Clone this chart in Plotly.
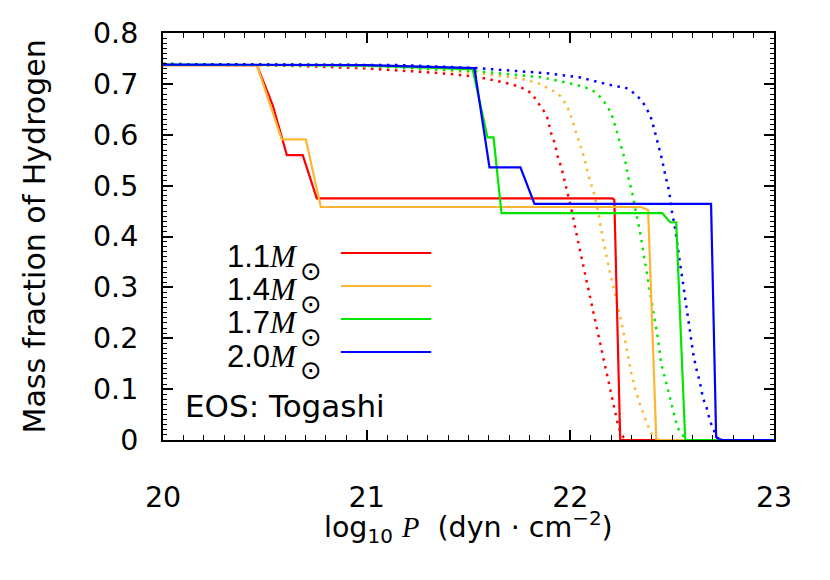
import plotly.graph_objects as go

# ---------------- data ----------------
masses = ["1.1", "1.4", "1.7", "2.0"]
colors = ["#ff0000", "#ffb533", "#00e600", "#0000ff"]

# solid curves
red_x = [20.0, 20.461, 20.539, 20.608, 20.686, 20.755, 22.206, 22.216, 22.245, 23.0]
red_y = [0.737, 0.737, 0.658, 0.560, 0.560, 0.475, 0.475, 0.472, 0.0, 0.0]

orange_x = [20.0, 20.461, 20.583, 20.701, 20.775, 22.348, 22.382, 22.422, 23.0]
orange_y = [0.737, 0.737, 0.591, 0.591, 0.458, 0.458, 0.452, 0.0, 0.0]

green_x = [20.0, 21.0, 21.520, 21.593, 21.623, 21.662, 22.451, 22.490, 22.520, 22.564, 23.0]
green_y = [0.738, 0.736, 0.729, 0.595, 0.595, 0.446, 0.446, 0.428, 0.428, 0.0, 0.0]

blue_x = [20.0, 21.0, 21.529, 21.603, 21.755, 21.824, 22.691, 22.716, 22.730, 22.750, 23.0]
blue_y = [0.738, 0.737, 0.731, 0.536, 0.536, 0.464, 0.464, 0.006, 0.002, 0.0, 0.0]

# dotted curves
red_dot_x = [20.0, 20.461, 20.672, 20.966, 21.294, 21.422, 21.554, 21.716, 21.789, 21.819,
             21.843, 21.868, 21.887, 21.907, 21.922, 21.941, 21.956, 21.975, 21.985, 22.005,
             22.049, 22.093, 22.132, 22.157, 22.176, 22.191, 22.211, 22.230, 22.240, 22.260,
             22.289]
red_dot_y = [0.738, 0.737, 0.735, 0.731, 0.723, 0.719, 0.713, 0.699, 0.688, 0.676,
             0.662, 0.648, 0.633, 0.601, 0.585, 0.552, 0.536, 0.503, 0.485, 0.454,
             0.369, 0.287, 0.220, 0.171, 0.138, 0.104, 0.071, 0.037, 0.022, 0.006,
             0.0]

orange_dot_x = [20.0, 20.672, 21.162, 21.554, 21.750, 21.843, 21.917, 21.951, 21.975, 21.995,
                22.020, 22.044, 22.069, 22.088, 22.113, 22.132, 22.162, 22.196, 22.225, 22.260,
                22.284, 22.299, 22.319, 22.343, 22.373, 22.387, 22.407, 22.436]
orange_dot_y = [0.739, 0.737, 0.733, 0.721, 0.711, 0.701, 0.686, 0.676, 0.662, 0.646,
                0.615, 0.583, 0.554, 0.521, 0.489, 0.458, 0.391, 0.326, 0.279, 0.214,
                0.165, 0.132, 0.100, 0.069, 0.037, 0.022, 0.006, 0.0]

green_dot_x = [20.0, 20.917, 21.539, 21.858, 22.020, 22.098, 22.127, 22.157, 22.181, 22.201,
               22.225, 22.245, 22.270, 22.284, 22.304, 22.319, 22.343, 22.363, 22.382, 22.402,
               22.417, 22.431, 22.446, 22.466, 22.485, 22.505, 22.525, 22.544, 22.574]
green_dot_y = [0.739, 0.737, 0.725, 0.713, 0.699, 0.690, 0.682, 0.670, 0.656, 0.642,
               0.611, 0.582, 0.548, 0.517, 0.485, 0.454, 0.407, 0.358, 0.310, 0.261,
               0.230, 0.198, 0.151, 0.120, 0.088, 0.057, 0.026, 0.012, 0.0]

blue_dot_x = [20.0, 21.162, 21.539, 21.882, 22.044, 22.152, 22.225, 22.265, 22.299, 22.328,
              22.353, 22.373, 22.392, 22.412, 22.431, 22.451, 22.466, 22.485, 22.500, 22.515,
              22.525, 22.603, 22.618, 22.637, 22.652, 22.667, 22.686, 22.701, 22.721, 22.745]
blue_dot_y = [0.739, 0.737, 0.731, 0.721, 0.713, 0.703, 0.695, 0.694, 0.686, 0.676,
              0.666, 0.652, 0.639, 0.611, 0.582, 0.550, 0.521, 0.489, 0.446, 0.415,
              0.385, 0.171, 0.141, 0.112, 0.081, 0.067, 0.037, 0.024, 0.004, 0.0]

x_ticks = [20, 21, 22, 23]
x_ticklabels = ["20", "21", "22", "23"]
y_ticks = [0, 0.1, 0.2, 0.3, 0.4, 0.5, 0.6, 0.7, 0.8]
y_ticklabels = ["0", "0.1", "0.2", "0.3", "0.4", "0.5", "0.6", "0.7", "0.8"]

solid = [(red_x, red_y), (orange_x, orange_y), (green_x, green_y), (blue_x, blue_y)]
dotted = [(red_dot_x, red_dot_y), (orange_dot_x, orange_dot_y),
          (green_dot_x, green_dot_y), (blue_dot_x, blue_dot_y)]

# ---------------- figure ----------------
SANS = "DejaVu Sans"
fig = go.Figure()

for (xs, ys), c in zip(dotted, colors):
    fig.add_trace(go.Scatter(x=xs, y=ys, mode="lines", showlegend=False,
                             line=dict(color=c, width=2.5, dash="2.5px,5.5px")))
for (xs, ys), c in zip(solid, colors):
    fig.add_trace(go.Scatter(x=xs, y=ys, mode="lines", showlegend=False,
                             line=dict(color=c, width=2.2)))

# legend (text left, sample line right, gnuplot style)
leg_y = [0.4595, 0.3784, 0.2973, 0.2162]
for m, c, yy in zip(masses, colors, leg_y):
    fig.add_annotation(
        xref="paper", yref="paper", x=0.2242, y=yy, xanchor="right", yanchor="middle",
        showarrow=False, yshift=-4,
        text=(m + "<span style='font-family:Liberation Serif;font-style:italic'>M</span>"),
        font=dict(family="Liberation Sans", size=31, color="black"))
    fig.add_annotation(
        xref="paper", yref="paper", x=0.2422, y=yy, xanchor="center", yanchor="middle",
        showarrow=False, yshift=-18, text="⊙",
        font=dict(family="DejaVu Sans", size=26, color="black"))
    fig.add_shape(type="line", xref="paper", yref="paper", x0=0.291, x1=0.439,
                  y0=yy, y1=yy, line=dict(color=c, width=2))

fig.add_annotation(xref="paper", yref="paper", x=0.033, y=0.0835, xanchor="left",
                   yanchor="middle", showarrow=False, text="EOS: Togashi",
                   font=dict(family=SANS, size=31, color="black"))

# axis titles
fig.add_annotation(xref="paper", yref="paper", x=0.5, y=-0.204, xanchor="center",
                   yanchor="middle", showarrow=False, yshift=-4,
                   text=("log<sub>10</sub> <span style='font-family:Liberation Serif;"
                         "font-style:italic'>P</span>&nbsp; (dyn · cm<sup>−2</sup>)"),
                   font=dict(family=SANS, size=28.5, color="black"))
fig.add_annotation(xref="paper", yref="paper", x=-0.2095, y=0.5, xanchor="center",
                   yanchor="middle", showarrow=False, textangle=-90,
                   text="Mass fraction of Hydrogen",
                   font=dict(family=SANS, size=30, color="black"))

axis_common = dict(showline=True, linecolor="black", linewidth=2, mirror="allticks",
                   ticks="inside", tickcolor="black", showgrid=False, zeroline=False,
                   tickfont=dict(family=SANS, size=28.5, color="black"))

fig.update_xaxes(range=[20, 23], tickvals=x_ticks, ticktext=x_ticklabels,
                 ticklen=10, tickwidth=1.5, ticklabelstandoff=31,
                 minor=dict(ticks="inside", dtick=0.1, ticklen=5, tickwidth=1,
                            tickcolor="black", showgrid=False),
                 **axis_common)
fig.update_yaxes(range=[0, 0.8], tickvals=y_ticks, ticktext=y_ticklabels,
                 ticklen=10, tickwidth=1.5, ticklabelstandoff=17,
                 minor=dict(ticks="inside", dtick=0.01, ticklen=4, tickwidth=1,
                            tickcolor="black", showgrid=False),
                 **axis_common)

fig.update_layout(width=830, height=580,
                  margin=dict(l=155, r=64, t=25, b=148, autoexpand=False),
                  plot_bgcolor="white", paper_bgcolor="white",
                  font=dict(family=SANS, color="black"))

fig.write_html("out.html")
